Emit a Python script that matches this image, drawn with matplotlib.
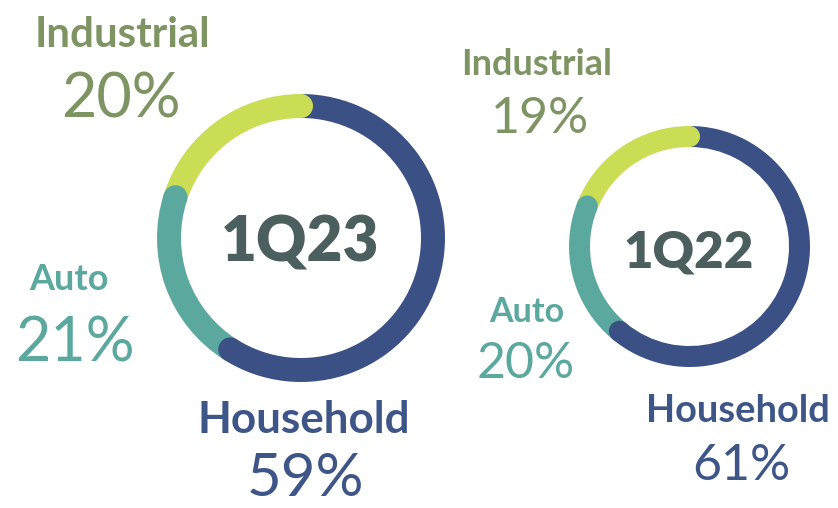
import matplotlib
matplotlib.use("Agg")
import matplotlib.pyplot as plt
from matplotlib.patches import Wedge, Circle
import numpy as np

# ---- data ----
segments = ["Household", "Auto", "Industrial"]
periods = ["1Q23", "1Q22"]
values_1q23 = [59, 21, 20]
values_1q22 = [61, 20, 19]

ring_colors = {"Household": "#3B5185", "Auto": "#5BA89F", "Industrial": "#CADD55"}
label_colors = {"Household": "#3E5588", "Auto": "#5BA89F", "Industrial": "#7E9463"}
center_color = "#4B5F5E"

W, H = 838, 508
fig = plt.figure(figsize=(W / 100, H / 100), dpi=100)
ax = fig.add_axes([0, 0, 1, 1])
ax.set_xlim(0, W)
ax.set_ylim(0, H)
ax.axis("off")

def py(y):
    return H - y

def pt(px):
    return px * 0.72

def donut(cx, cy, r_out, width, values):
    total = float(sum(values))
    start = 90.0
    caps = []
    for name, v in zip(segments, values):
        span = v / total * 360.0
        end = start - span
        ax.add_patch(Wedge((cx, py(cy)), r_out, end, start, width=width,
                           facecolor=ring_colors[name], edgecolor="none", zorder=2))
        caps.append((name, end))
        start = end
    rm = r_out - width / 2.0
    for name, ang in caps:
        a = np.deg2rad(ang)
        ax.add_patch(Circle((cx + rm * np.cos(a), py(cy) + rm * np.sin(a)), width / 2.0,
                            facecolor=ring_colors[name], edgecolor="none", zorder=3))

# donuts
donut(301, 238, 144, 24, values_1q23)
donut(689.5, 246.5, 120.5, 21, values_1q22)

FAM = ["Lato", "DejaVu Sans"]

def label(x, y, text, color, size_px, weight, va="baseline"):
    ax.text(x, py(y), text, color=color, fontsize=pt(size_px), fontweight=weight,
            family=FAM, ha="center", va=va, zorder=4)

# left donut texts (1Q23)
label(300, 262, periods[0], center_color, 62, "heavy")
label(122, 47, segments[2], label_colors["Industrial"], 42, "bold")
label(121, 117, f"{values_1q23[2]}%", label_colors["Industrial"], 61, "normal")
label(69, 290, segments[1], label_colors["Auto"], 36, "bold")
label(75, 361, f"{values_1q23[1]}%", label_colors["Auto"], 61, "normal")
label(304, 433, segments[0], label_colors["Household"], 44, "bold")
label(305, 506, f"{values_1q23[0]}%", label_colors["Household"], 60, "normal", va="bottom")

# right donut texts (1Q22)
label(689, 267, periods[1], center_color, 51, "heavy")
label(537, 75, segments[2], label_colors["Industrial"], 36, "bold")
label(540, 133, f"{values_1q22[2]}%", label_colors["Industrial"], 50, "normal")
label(527, 322, segments[1], label_colors["Auto"], 34, "bold")
label(526, 378, f"{values_1q22[1]}%", label_colors["Auto"], 50, "normal")
label(738, 422, segments[0], label_colors["Household"], 38, "bold")
label(741, 480, f"{values_1q22[0]}%", label_colors["Household"], 50, "normal")

fig.savefig("out.png", dpi=100, facecolor="white")
